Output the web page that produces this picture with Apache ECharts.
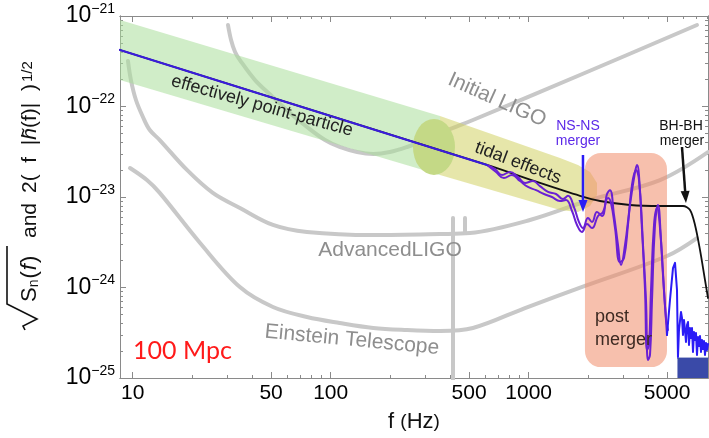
<!DOCTYPE html>
<html><head><meta charset="utf-8">
<script src="https://cdn.jsdelivr.net/npm/echarts@6/dist/echarts.min.js"></script>
<style>html,body{margin:0;padding:0;background:#fff}#c{width:709px;height:438px}</style>
</head><body><div id="c"></div>
<script>
// ---------- axes ----------
const X_RANGE = [8.63, 8046];
const Y_RANGE = [1e-25, 1e-21];
const X_MAJOR = [10, 50, 100, 500, 1000, 5000];
const X_MINOR = [20, 30, 40, 60, 70, 80, 90, 200, 300, 400, 600, 700, 800, 900, 2000, 3000, 4000, 6000, 7000, 8000];
const Y_DECADES = [-25, -24, -23, -22, -21];
const Y_UNIT = 1e-25; // amplitudes are plotted in units of 1e-25 (log scale needs non-tiny numbers)

// ---------- detector noise curves (f [Hz], amplitude) ----------
const INITIAL_LIGO = [[30.3,7.95e-22],[31.4,5.43e-22],[32.9,4.00e-22],[34.8,3.26e-22],[41.5,1.96e-22],[51.1,1.27e-22],[62.3,8.48e-23],[75.9,5.94e-23],[93.6,4.26e-23],[111,3.57e-23],[136,3.14e-23],[164,2.99e-23],[199,3.14e-23],[243,3.57e-23],[300,4.26e-23],[357,5.10e-23],[523,7.09e-23],[1816,2.23e-22],[7079,7.95e-22]];
const ADV_LIGO = [[9.47,3.18e-22],[9.80,1.96e-22],[10.39,1.18e-22],[11.27,7.66e-23],[12.2,5.50e-23],[13.7,4.26e-23],[18.8,1.99e-23],[25.4,1.11e-23],[34.8,7.56e-24],[51.1,4.91e-24],[75.9,4.11e-24],[164,3.80e-24],[357,3.90e-24],[505,4.00e-24],[1015,5.57e-24],[2040,9.27e-24],[4604,1.54e-23],[8046,3.14e-23]];
const ADV_SPIKE = [[476.9,4.00e-24],[476.9,5.86e-24]];
const ET = [[9.69,2.09e-23],[11.8,1.54e-23],[13.7,1.11e-23],[21.9,3.10e-24],[34.8,1.01e-24],[51.1,6.09e-25],[75.9,4.72e-25],[111,4.05e-25],[164,3.57e-25],[243,3.39e-25],[357,3.31e-25],[523,3.57e-25],[958,5.93e-25],[1924,1.04e-24],[4994,2.23e-24],[7079,3.52e-24]];
const ET_SPIKE = [[414.7,0.9e-25],[414.7,5.86e-24]];

// ---------- signals ----------
const POINT_PARTICLE = [[8.63,4.21e-22],[616,2.26e-23]];
const BH_BH = [[8.63,4.21e-22],[616,2.26e-23],[1140,1.43e-23],[1816,1.03e-23],[2292,9.03e-24],[3248,8.16e-24],[4604,7.95e-24],[6015,7.95e-24],[6527,7.18e-24],[6918,4.91e-24],[7331,2.60e-24],[7770,1.21e-24],[8046,7.66e-25]];
const NS_A = [[616,2.26e-23],[676,2.04e-23],[733,1.75e-23],[805,1.89e-23],[883,1.66e-23],[958,1.43e-23],[1051,1.50e-23],[1140,1.32e-23],[1252,1.14e-23],[1374,1.08e-23],[1490,9.50e-24],[1579,1.03e-23],[1693,7.75e-24],[1795,5.29e-24],[1880,4.54e-24],[1993,5.86e-24],[2088,5.29e-24],[2213,6.83e-24],[2346,6.17e-24],[2486,1.08e-23],[2574,1.19e-23],[2697,6.33e-24],[2825,2.95e-24],[2926,1.77e-24],[3065,2.95e-24],[3248,8.16e-24],[3444,1.89e-23],[3524,2.26e-23],[3648,1.19e-23],[3779,2.95e-24],[3912,7.28e-25],[4004,1.58e-25],[4099,1.80e-25],[4196,7.28e-25],[4345,4.91e-24],[4498,8.16e-24],[4658,3.35e-24],[4824,9.38e-25],[4994,2.99e-25]];
const NS_B = [[616,2.26e-23],[684,1.89e-23],[750,1.62e-23],[823,1.75e-23],[904,1.50e-23],[992,1.29e-23],[1089,1.19e-23],[1195,1.08e-23],[1311,1.00e-23],[1439,9.03e-24],[1543,9.27e-24],[1655,7.00e-24],[1754,4.91e-24],[1859,4.11e-24],[1970,5.03e-24],[2088,4.54e-24],[2239,6.17e-24],[2373,6.83e-24],[2515,9.75e-24],[2604,8.59e-24],[2729,4.54e-24],[2891,1.91e-24],[3029,2.12e-24],[3173,4.91e-24],[3324,1.36e-23],[3483,1.99e-23],[3606,1.54e-23],[3735,4.32e-24],[3868,9.38e-25],[3959,2.04e-25],[4051,2.32e-25],[4147,9.38e-25],[4294,4.91e-24],[4446,7.56e-24],[4604,4.54e-24],[4768,1.37e-24],[4936,4.60e-25],[5051,3.39e-25]];
const NS_TAIL = [[4994,2.99e-25],[5171,7.28e-25],[5355,1.64e-24],[5483,1.87e-24],[5610,9.38e-25],[5675,1.71e-25],[5742,3.39e-25],[5877,5.36e-25],[5946,4.60e-25],[6015,2.99e-25],[6085,4.38e-25],[6157,3.39e-25],[6228,2.50e-25],[6302,3.85e-25],[6376,4.16e-25],[6451,2.32e-25],[6527,3.57e-25],[6604,2.77e-25],[6680,3.57e-25],[6758,1.94e-25],[6837,3.22e-25],[6918,2.63e-25],[6997,3.14e-25],[7079,1.80e-25],[7163,2.84e-25],[7246,2.26e-25],[7331,2.91e-25],[7417,1.94e-25],[7504,2.63e-25],[7591,2.09e-25],[7680,2.56e-25],[7770,1.80e-25],[7861,2.44e-25],[7953,2.04e-25],[8046,2.38e-25]];
const NOISE_FLOOR = [[5640,1.66e-25],[8046,1.66e-25]];

// ---------- shaded regions ----------
const GREEN_BAND = [[8.63,9.03e-22],[356.5,7.85e-23],[356.5,1.75e-23],[8.63,1.96e-22]];
const YELLOW_BAND = [[356.5,7.85e-23],[1439,2.70e-23],[1774,2.26e-23],[2040,1.89e-23],[2213,1.43e-23],[2213,1.05e-23],[2040,7.95e-24],[1774,6.83e-24],[1439,7.18e-24],[356.5,1.75e-23]];
const OVERLAP_CENTER = [332.4, 3.57e-23];
const POST_MERGER_BOX = [[1924, 3.06e-23], [4994, 1.32e-25]];
const NS_ARROW = [[1880, 2.91e-23], [1880, 6.83e-24]];
const BH_ARROW = [[5946, 3.57e-23], [6228, 8.59e-24]];

// ---------- helpers ----------
const sc = pts => pts.map(p => [p[0], p[1] / Y_UNIT]);
const Y_MAJOR = Y_DECADES.map(e => Math.pow(10, e + 25));
const Y_MINOR = [];
for (let e = 0; e <= 3; e++) for (let k = 2; k <= 9; k++) Y_MINOR.push(Number(k + 'e' + e));

const FONT = '"Liberation Sans", Arial, Helvetica, sans-serif';
const AX = '#8a8a8a';
const GRAY = '#c8c8c8';

function xAxisCfg(position, ticks, len, labels) {
  return {
    type: 'log', logBase: 10, min: X_RANGE[0], max: X_RANGE[1], position: position,
    axisLine: {show: true, onZero: false, lineStyle: {color: AX, width: 1}},
    axisTick: {show: true, inside: true, length: len, customValues: ticks, lineStyle: {color: AX, width: 1}},
    axisLabel: {show: labels, customValues: X_MAJOR, margin: 5, color: '#000', fontSize: 21, fontFamily: FONT,
      formatter: v => String(Math.round(v))},
    splitLine: {show: false}, minorTick: {show: false}, minorSplitLine: {show: false}
  };
}
function yAxisCfg(position, ticks, len, labels) {
  return {
    type: 'log', logBase: 10, min: Y_RANGE[0] / Y_UNIT * 0.99999, max: Y_RANGE[1] / Y_UNIT * 1.00001, position: position,
    axisLine: {show: true, onZero: false, lineStyle: {color: AX, width: 1}},
    axisTick: {show: true, inside: true, length: len, customValues: ticks, lineStyle: {color: AX, width: 1}},
    axisLabel: {show: labels, customValues: Y_MAJOR, margin: 5,
      formatter: v => '{b|10}{s|\u2212' + (-(Math.round(Math.log10(v)) - 25)) + '}',
      rich: {
        b: {fontSize: 23, fontFamily: FONT, color: '#000', lineHeight: 28},
        s: {fontSize: 14, fontFamily: FONT, color: '#000', verticalAlign: 'top', lineHeight: 14}
      }},
    splitLine: {show: false}, minorTick: {show: false}, minorSplitLine: {show: false}
  };
}

function line(name, data, color, width, z, smooth) {
  return {type: 'line', name: name, data: sc(data), symbol: 'none', showSymbol: false, smooth: smooth || false,
    lineStyle: {color: color, width: width, cap: 'round', join: 'round'}, z: z, silent: true, clip: true};
}
function polygon(name, pts, fill, z) {
  const d = sc(pts);
  return {type: 'custom', name: name, data: d, encode: {x: 0, y: 1}, z: z, silent: true, clip: true,
    renderItem: function (params, api) {
      if (params.dataIndex !== 0) return null;
      return {type: 'polygon', shape: {points: d.map(p => api.coord(p))}, style: {fill: fill}};
    }};
}
function arrow(name, pts, color, z) {
  const d = sc(pts);
  return {type: 'custom', name: name, data: [[d[0][0], d[0][1], d[1][0], d[1][1]]], encode: {x: [0, 2], y: [1, 3]}, z: z, silent: true,
    renderItem: function (params, api) {
      const a = api.coord([api.value(0), api.value(1)]), b = api.coord([api.value(2), api.value(3)]);
      const dx = b[0] - a[0], dy = b[1] - a[1], L = Math.hypot(dx, dy), ux = dx / L, uy = dy / L, hl = 12, hw = 4.5;
      const bx = b[0] - ux * hl, by = b[1] - uy * hl;
      return {type: 'group', children: [
        {type: 'line', shape: {x1: a[0], y1: a[1], x2: bx, y2: by}, style: {stroke: color, lineWidth: 2.5}},
        {type: 'polygon', shape: {points: [[b[0], b[1]], [bx - uy * hw, by + ux * hw], [bx + uy * hw, by - ux * hw]]}, style: {fill: color}}
      ]};
    }};
}
const box = sc(POST_MERGER_BOX);
const ov = sc([OVERLAP_CENTER])[0];

const series = [
  line('Initial LIGO', INITIAL_LIGO, GRAY, 4, 2, 0.35),
  line('Advanced LIGO', ADV_LIGO, GRAY, 4, 2, 0.35),
  line('Advanced LIGO line', ADV_SPIKE, GRAY, 4, 2),
  line('Einstein Telescope', ET, GRAY, 4, 2, 0.35),
  line('ET line', ET_SPIKE, GRAY, 4, 2),
  polygon('point-particle band', GREEN_BAND, 'rgba(170,222,155,0.55)', 3),
  polygon('tidal band', YELLOW_BAND, 'rgba(210,210,100,0.55)', 3),
  {type: 'custom', name: 'overlap', data: [ov], encode: {x: 0, y: 1}, z: 3, silent: true,
    renderItem: function (params, api) {
      const c = api.coord([api.value(0), api.value(1)]);
      return {type: 'circle', x: c[0], y: c[1], scaleX: 21 / 28, shape: {cx: 0, cy: 0, r: 28}, style: {fill: '#c4d986'}};
    }},
  {type: 'custom', name: 'post merger', data: [[box[0][0], box[0][1], box[1][0], box[1][1]]], encode: {x: [0, 2], y: [1, 3]}, z: 3, silent: true,
    renderItem: function (params, api) {
      const p = api.coord([api.value(0), api.value(1)]), q = api.coord([api.value(2), api.value(3)]);
      return {type: 'rect', shape: {x: p[0], y: p[1], width: q[0] - p[0], height: q[1] - p[1], r: 16},
        style: {fill: 'rgba(240,140,105,0.55)'}};
    }},
  line('BH-BH', BH_BH, '#111111', 1.8, 4, 0.3),
  line('NS-NS B', NS_B, '#6a20d4', 2, 5, 0.45),
  line('NS-NS A', NS_A, '#6a20d4', 2, 5, 0.45),
  line('NS tail', NS_TAIL, '#2a1cf6', 2, 5),
  Object.assign(line('noise floor', NOISE_FLOOR, '#3a4aa8', 1, 4), {areaStyle: {color: '#3a4aa8', opacity: 1, origin: 'start'}}),
  line('point particle', POINT_PARTICLE, '#3a1cdc', 2.2, 6),
  arrow('NS arrow', NS_ARROW, '#2a1cf6', 7),
  arrow('BH arrow', BH_ARROW, '#111111', 7)
];

function txt(text, x, y, size, color, opts) {
  return Object.assign({type: 'text', x: x, y: y, z: 100, silent: true,
    style: {text: text, fontSize: size, fontFamily: FONT, fill: color, align: 'center', verticalAlign: 'middle'}}, opts || {});
}

const graphic = [
  txt('effectively point-particle', 262, 106, 18, '#222', {rotation: -0.272}),
  txt('Initial LIGO', 497, 100, 21, '#8e8e8e', {rotation: -0.42}),
  txt('tidal effects', 518, 163, 18, '#222', {rotation: -0.36}),
  txt('NS-NS', 578, 126, 14, '#5b28e8'),
  txt('merger', 578, 141, 14, '#5b28e8'),
  txt('BH-BH', 681, 126, 14, '#111'),
  txt('merger', 682, 141, 14, '#111'),
  txt('AdvancedLIGO', 390, 250, 21, '#8e8e8e'),
  txt('Einstein Telescope', 352, 340, 21, '#8e8e8e', {rotation: -0.094}),
  {type: 'text', x: 595, y: 317, z: 100, silent: true, style: {text: 'post', fontSize: 18, fontFamily: FONT, fill: '#3d2a22', align: 'left', verticalAlign: 'middle'}},
  {type: 'text', x: 595, y: 340, z: 100, silent: true, style: {text: 'merger', fontSize: 18, fontFamily: FONT, fill: '#3d2a22', align: 'left', verticalAlign: 'middle'}},
  {type: 'text', x: 133, y: 351, z: 100, silent: true, style: {text: '100 Mpc', fontSize: 25, fontFamily: 'Lato, ' + FONT, fill: '#ff1a1a', align: 'left', verticalAlign: 'middle'}},
  {type: 'text', x: 414, y: 422, z: 100, silent: true, style: {text: '{a|f }{p|(}{a|Hz}{p|)}', align: 'center', verticalAlign: 'middle',
    rich: {a: {fontSize: 22, fontFamily: FONT, fill: '#111'}, p: {fontSize: 19, fontFamily: FONT, fill: '#111'}}}},
  {type: 'group', x: 38, y: 330, rotation: Math.PI / 2, z: 100, silent: true, children: [
    {type: 'polyline', shape: {points: [[0, -13], [4, -15], [11, -1], [26, -31], [84, -31]]}, style: {stroke: '#111', lineWidth: 1.6, fill: null}},
    {type: 'text', x: 28, y: 3, style: {text: '{s|S}{n|n}{p|(}{i|f}{p|)}', align: 'left', verticalAlign: 'bottom',
      rich: {s: {fontSize: 22, fontFamily: FONT, fill: '#111'}, n: {fontSize: 14, fontFamily: FONT, fill: '#111', verticalAlign: 'bottom'},
        p: {fontSize: 22, fontFamily: FONT, fill: '#111', padding: [0, 1, 0, 1]}, i: {fontSize: 22, fontFamily: FONT, fontStyle: 'italic', fill: '#111'}}}},
    {type: 'text', x: 92, y: 3, style: {text: 'and', fontSize: 21, fontFamily: FONT, fill: '#111', align: 'left', verticalAlign: 'bottom'}},
    {type: 'text', x: 137, y: 3, style: {text: '{p|2(  f  |}{i|h\u0303}{p|(f)|  )}{sup|1/2}', align: 'left', verticalAlign: 'bottom',
      rich: {p: {fontSize: 21, fontFamily: FONT, fill: '#111'}, i: {fontSize: 21, fontFamily: FONT, fontStyle: 'italic', fill: '#111'},
        sup: {fontSize: 15, fontFamily: FONT, fill: '#111', verticalAlign: 'top', padding: [0, 0, 0, 2]}}}}
  ]}
];

const chart = echarts.init(document.getElementById('c'), null, {renderer: 'canvas'});
chart.setOption({
  animation: false,
  backgroundColor: '#fff',
  grid: {left: 120, right: 1, top: 16, bottom: 60, containLabel: false, outerBoundsMode: 'none'},
  xAxis: [xAxisCfg('bottom', X_MAJOR, 6, true), xAxisCfg('bottom', X_MINOR, 3, false),
          xAxisCfg('top', X_MAJOR, 6, false), xAxisCfg('top', X_MINOR, 3, false)],
  yAxis: [yAxisCfg('left', Y_MAJOR, 6, true), yAxisCfg('left', Y_MINOR, 3, false),
          yAxisCfg('right', Y_MAJOR, 6, false), yAxisCfg('right', Y_MINOR, 3, false)],
  series: series,
  graphic: graphic
});
</script></body></html>
